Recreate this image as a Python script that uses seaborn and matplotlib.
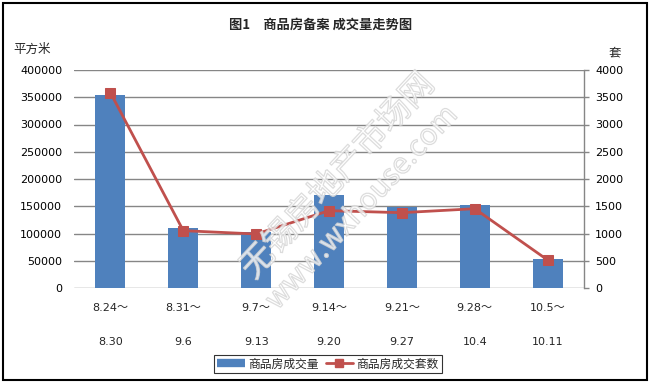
import numpy as np
import matplotlib
matplotlib.use("Agg")
import matplotlib.pyplot as plt
import matplotlib.patheffects as pe
from matplotlib.patches import Rectangle
from matplotlib.lines import Line2D
from matplotlib.transforms import blended_transform_factory
import seaborn as sns

# =============================
#  Données
# =============================
periods_start = ["8.24～", "8.31～", "9.7～", "9.14～", "9.21～", "9.28～", "10.5～"]
periods_end = ["8.30", "9.6", "9.13", "9.20", "9.27", "10.4", "10.11"]
area = [354000, 110000, 103000, 171000, 148000, 152000, 53000]   # 平方米
units = [3583, 1052, 991, 1419, 1382, 1455, 514]                 # 套

sns.set_style("white")
plt.rcParams["font.family"] = ["DejaVu Sans", "Noto Sans CJK SC"]
cjk = ["Noto Sans CJK SC", "DejaVu Sans"]

bar_color = "#4F81BD"
line_color = "#C0504D"
grid_color = "#868686"

fig = plt.figure(figsize=(6.51, 3.83), dpi=100)
ax = fig.add_axes([74 / 651, 1 - 288 / 383, 510 / 651, 218 / 383])
ax2 = ax.twinx()

# =============================
#  Barres + courbe
# =============================
x = np.arange(len(area))
sns.barplot(x=x, y=area, color=bar_color, saturation=1, width=0.41,
            linewidth=0, ax=ax, native_scale=True)
sns.lineplot(x=x, y=units, color=line_color, linewidth=2, marker="s",
             markersize=7.5, markeredgecolor=line_color, ax=ax2)

ax.set_xlim(-0.5, 6.5)
ax.set_ylim(0, 400000)
ax2.set_ylim(0, 4000)
ax.set_yticks(np.arange(0, 400001, 50000))
ax2.set_yticks(np.arange(0, 4001, 500))
ax.yaxis.grid(True, color=grid_color, linewidth=1)
ax.set_axisbelow(True)

for a in (ax, ax2):
    for s in a.spines.values():
        s.set_visible(False)
ax2.spines["right"].set_visible(True)
ax2.spines["right"].set_color(grid_color)
ax2.spines["right"].set_linewidth(1)

ax.tick_params(axis="y", length=0, pad=8.5, labelsize=8, colors="black")
ax2.tick_params(axis="y", direction="out", length=3.6, width=1, color=grid_color,
                pad=4.3, labelsize=8, labelcolor="black")
ax.set_xticks(x)
ax.set_xticklabels(periods_start)
ax.tick_params(axis="x", length=0, pad=11, labelsize=8)
ax.set_ylabel("")
ax2.set_ylabel("")

trans = blended_transform_factory(ax.transData, ax.transAxes)
for i, lab in enumerate(periods_end):
    ax.text(i, -54 / 218, lab, transform=trans, ha="center", va="center", fontsize=8)

# =============================
#  Textes
# =============================
fig.text(321 / 651, 1 - 25 / 383, "图1　商品房备案 成交量走势图", family=cjk,
         fontsize=9.5, fontweight="bold", ha="center", va="center")
fig.text(32 / 651, 1 - 49 / 383, "平方米", family=cjk, fontsize=9, ha="center", va="center")
fig.text(615 / 651, 1 - 53 / 383, "套", family=cjk, fontsize=9, ha="center", va="center")

# filigrane (contour seul)
wm = [pe.withStroke(linewidth=0.9, foreground="#d4d4d4", alpha=0.8)]
fig.text(338 / 651, 1 - 176 / 383, "无锡房地产市场网", family=cjk, fontsize=24,
         rotation=47, ha="center", va="center", color=(1, 1, 1, 0), path_effects=wm)
fig.text(362 / 651, 1 - 208 / 383, "www.wxhouse.com", family=cjk, fontsize=21,
         rotation=47, ha="center", va="center", color=(1, 1, 1, 0), path_effects=wm)

# =============================
#  Légende + cadre
# =============================
handles = [
    Line2D([], [], color=bar_color, linewidth=6, solid_capstyle="butt"),
    Line2D([], [], color=line_color, linewidth=2, marker="s", markersize=6),
]
leg = fig.legend(handles, ["商品房成交量", "商品房成交套数"], loc="center",
                 bbox_to_anchor=(328 / 651, 1 - 364 / 383), ncol=2, frameon=True,
                 fancybox=False, edgecolor="black", prop={"family": cjk, "size": 8.5},
                 handlelength=2.3, handletextpad=0.3, columnspacing=0.6,
                 borderpad=0.25)
leg.get_frame().set_linewidth(0.8)

fig.patches.append(Rectangle((3 / 651, 3 / 383), 644 / 651, 377 / 383,
                             transform=fig.transFigure, fill=False,
                             edgecolor="black", linewidth=1.5))

fig.savefig("out.png", dpi=100)
